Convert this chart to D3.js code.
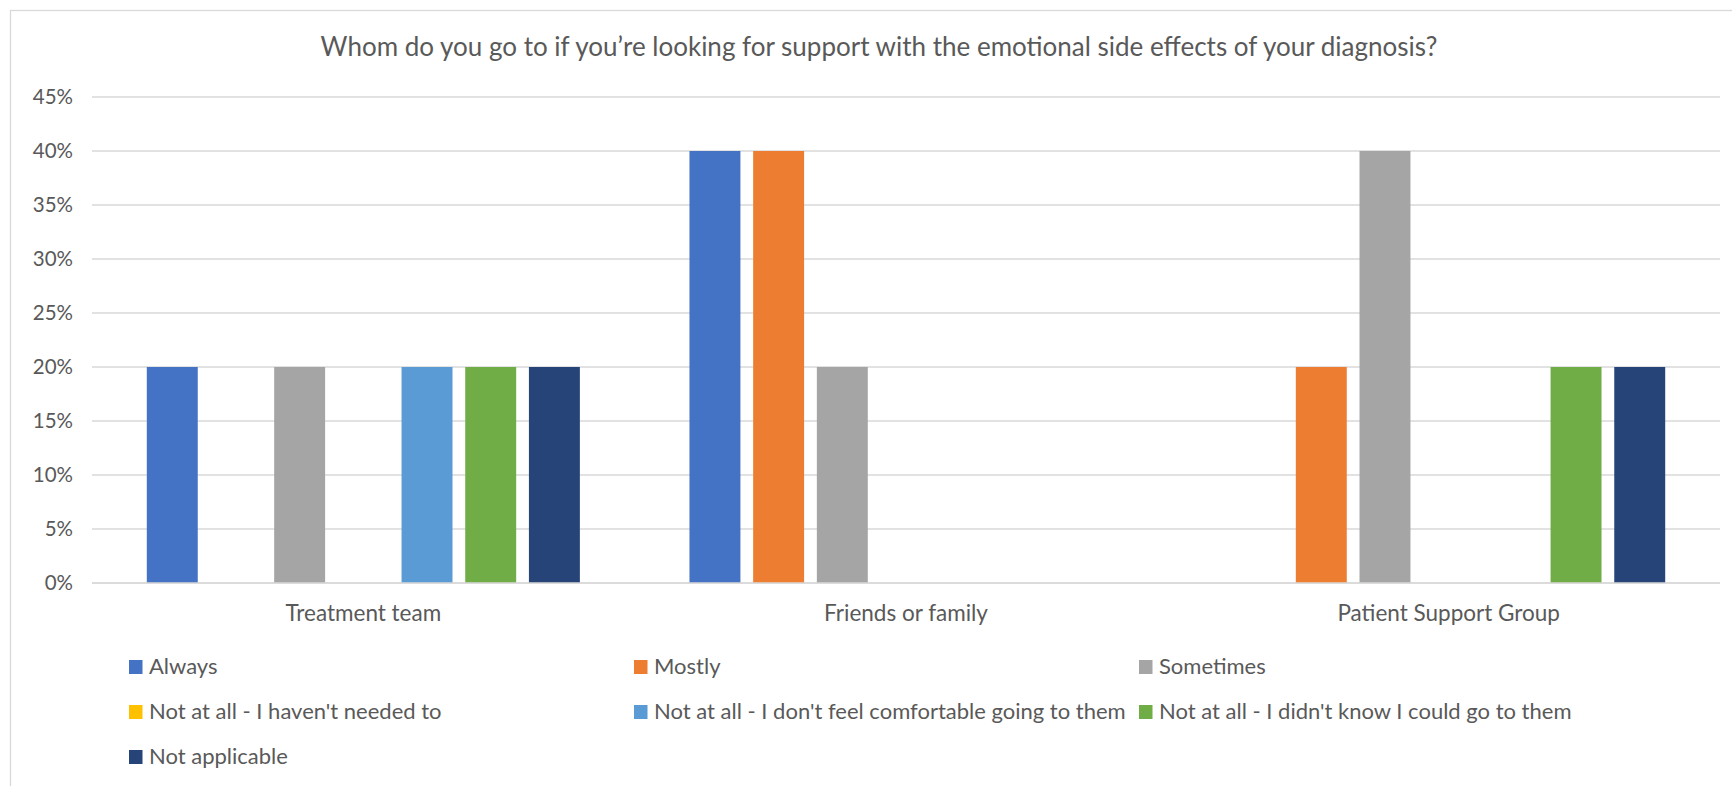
<!DOCTYPE html>
<html>
<head>
<meta charset="utf-8">
<script src="https://cdn.jsdelivr.net/npm/d3@7"></script>
<style>
  html, body { margin: 0; padding: 0; background: #fff; }
  svg text { font-family: Lato, "Open Sans", sans-serif; fill: #595959; }
</style>
</head>
<body>
<svg id="chart" width="1732" height="786"></svg>
<script>
const title = "Whom do you go to if you\u2019re looking for support with the emotional side effects of your diagnosis?"

const categories = ["Treatment team", "Friends or family", "Patient Support Group"]

const series = [
  "Always",
  "Mostly",
  "Sometimes",
  "Not at all - I haven't needed to",
  "Not at all - I don't feel comfortable going to them",
  "Not at all - I didn't know I could go to them",
  "Not applicable"
]

const colors = ["#4472C4", "#ED7D31", "#A5A5A5", "#FFC000", "#5B9BD5", "#70AD47", "#264478"]

// one array per series, values for [Treatment team, Friends or family, Patient Support Group]
const always      = [0.20, 0.40, 0.00]
const mostly      = [0.00, 0.40, 0.20]
const sometimes   = [0.20, 0.20, 0.40]
const notNeeded   = [0.00, 0.00, 0.00]
const notComfy    = [0.20, 0.00, 0.00]
const didntKnow   = [0.20, 0.00, 0.20]
const notApplic   = [0.20, 0.00, 0.20]

const yTicks = [0, 0.05, 0.10, 0.15, 0.20, 0.25, 0.30, 0.35, 0.40, 0.45]

const values = [always, mostly, sometimes, notNeeded, notComfy, didntKnow, notApplic]

const svg = d3.select("#chart")

// chart area border
svg.append("rect")
  .attr("x", 10.5).attr("y", 10.5)
  .attr("width", 1740).attr("height", 800)
  .attr("fill", "#fff")
  .attr("stroke", "#d9d9d9")
  .attr("stroke-width", 1.3)

svg.append("text")
  .attr("x", 879).attr("y", 56)
  .attr("text-anchor", "middle")
  .style("font-size", "26px")
  .text(title)

const plotL = 92, plotR = 1720, plotT = 97, plotB = 583

const x0 = d3.scaleBand().domain(categories).range([plotL, plotR])
const bw = x0.bandwidth()
const side = 54.8
const x1 = d3.scaleBand().domain(series).range([side, bw - side]).paddingInner(0.2)
const y = d3.scaleLinear().domain([0, 0.45]).range([plotB, plotT])

// gridlines
svg.append("g")
  .selectAll("line")
  .data(yTicks)
  .join("line")
    .attr("x1", plotL).attr("x2", plotR)
    .attr("y1", d => y(d)).attr("y2", d => y(d))
    .attr("stroke", "#d9d9d9")
    .attr("stroke-width", 1.3)

// y tick labels
svg.append("g")
  .selectAll("text")
  .data(yTicks)
  .join("text")
    .attr("x", 73)
    .attr("y", d => y(d))
    .attr("dy", "0.36em")
    .attr("text-anchor", "end")
    .style("font-size", "20.5px")
    .text(d3.format(".0%"))

// bars
const groups = svg.append("g")
  .selectAll("g")
  .data(categories)
  .join("g")
    .attr("transform", d => `translate(${x0(d)},0)`)

groups.selectAll("rect")
  .data((c, ci) => series.map((s, si) => ({s, si, v: values[si][ci]})))
  .join("rect")
    .attr("x", d => x1(d.s))
    .attr("y", d => y(d.v))
    .attr("width", x1.bandwidth())
    .attr("height", d => plotB - y(d.v))
    .attr("fill", d => colors[d.si])

// category axis line on top of bars
svg.append("line")
  .attr("x1", plotL).attr("x2", plotR)
  .attr("y1", plotB).attr("y2", plotB)
  .attr("stroke", "#d9d9d9")
  .attr("stroke-width", 1.3)

// category labels
svg.append("g")
  .selectAll("text")
  .data(categories)
  .join("text")
    .attr("x", d => x0(d) + bw / 2)
    .attr("y", 621)
    .attr("text-anchor", "middle")
    .style("font-size", "22.5px")
    .text(d => d)

// legend, 3 columns
const legend = svg.append("g")
  .selectAll("g")
  .data(series)
  .join("g")
    .attr("transform", (d, i) => `translate(${129 + (i % 3) * 505},${674 + Math.floor(i / 3) * 45})`)

legend.append("rect")
  .attr("x", 0).attr("y", -14)
  .attr("width", 13.5).attr("height", 14)
  .attr("fill", (d, i) => colors[i])

legend.append("text")
  .attr("x", 20).attr("y", 0)
  .style("font-size", "22px")
  .text(d => d)
</script>
</body>
</html>
